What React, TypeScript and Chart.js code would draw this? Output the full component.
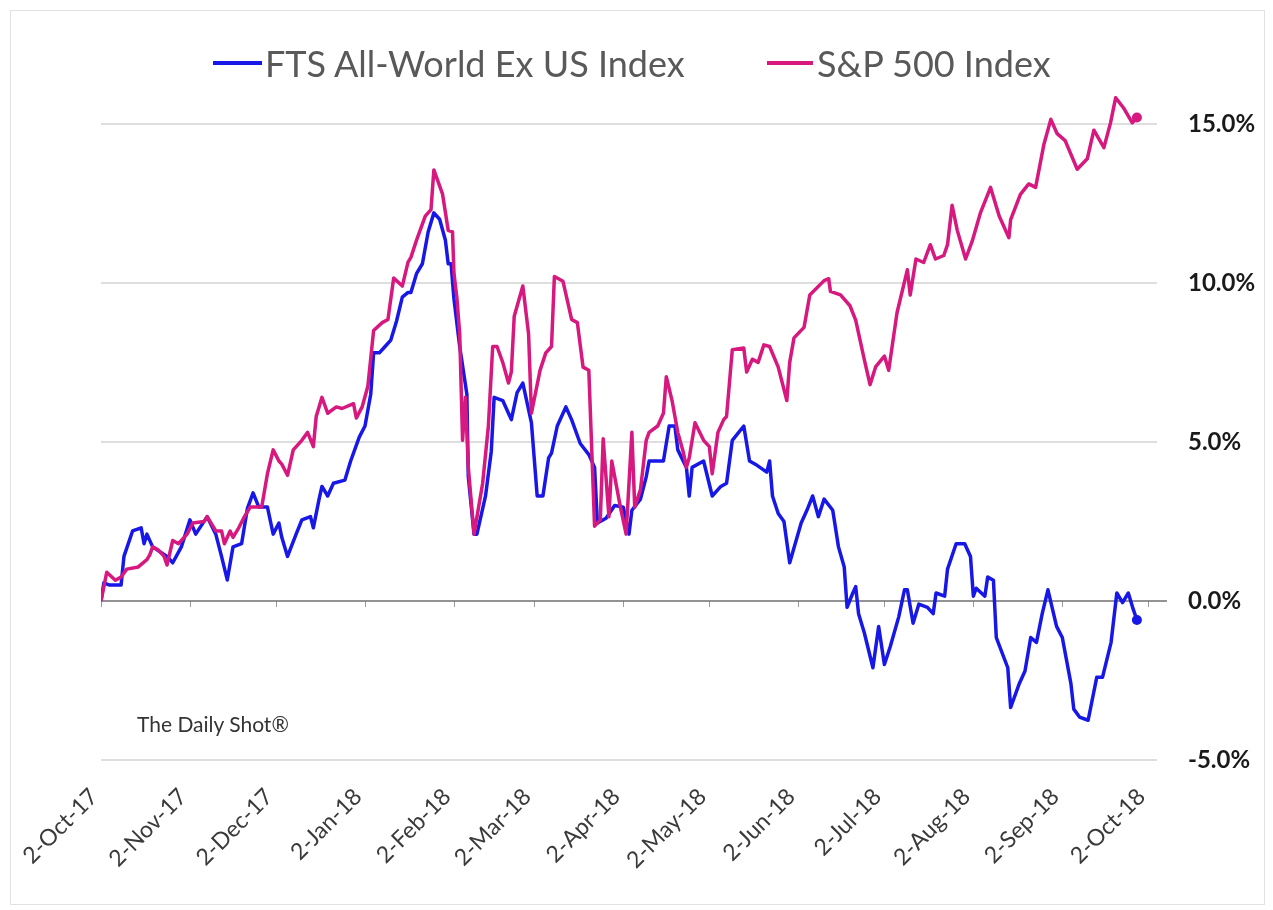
import React, { useEffect, useRef } from "react";
import { Chart, registerables } from "chart.js";

Chart.register(...registerables);

// x positions are days since 2-Oct-2017
const tickDays = [0, 31, 61, 92, 123, 151, 182, 212, 243, 273, 304, 335, 365];
const tickLabels = [
  "2-Oct-17", "2-Nov-17", "2-Dec-17", "2-Jan-18", "2-Feb-18", "2-Mar-18", "2-Apr-18",
  "2-May-18", "2-Jun-18", "2-Jul-18", "2-Aug-18", "2-Sep-18", "2-Oct-18",
];
const seriesNames = ["FTS All-World Ex US Index", "S&P 500 Index"];
const seriesColors = ["#1717e8", "#d6187f"];

const ftseDays = [
  0, 1, 3, 7, 8, 11, 14, 15, 16, 18, 23, 25, 28, 31, 33, 37, 40, 42, 44, 46, 49, 51, 53, 55, 58,
  60, 62, 63, 65, 68, 70, 73, 74, 76, 77, 79, 81, 85, 87, 90, 92, 94, 95, 97, 99, 101, 103, 105,
  107, 108, 110, 112, 114, 116, 118, 120, 121, 122, 123, 125, 127.5, 128, 130, 131, 134, 136, 137,
  140, 142, 143, 145, 147, 150, 152, 154, 156, 157, 159, 162, 164, 167, 170, 172, 173, 176, 179,
  182, 184, 185, 188, 190, 191, 196, 198, 200, 201, 204, 205, 206, 210, 213, 216, 218, 220, 224,
  226, 228, 232, 233, 234, 236, 238, 240, 244, 246, 248, 250, 252, 255, 257, 259, 260, 262, 263,
  264, 266, 269, 271, 273, 275, 278, 280, 281, 283, 285, 288, 290, 291, 294, 295, 298, 301, 303,
  304, 305, 308, 309, 311, 312, 316, 317, 320, 322, 324, 326, 328, 330, 333, 335, 338, 339, 341,
  344, 347, 349, 352, 354, 356, 358, 359.5, 361,
];
const ftseValues = [
  0, 0.57, 0.5, 0.5, 1.4, 2.2, 2.3, 1.8, 2.1, 1.7, 1.4, 1.2, 1.7, 2.55, 2.1, 2.65, 2.1, 1.4, 0.66,
  1.7, 1.8, 2.9, 3.4, 2.95, 2.95, 2.1, 2.45, 2.0, 1.4, 2.1, 2.55, 2.65, 2.3, 3.2, 3.6, 3.3, 3.7,
  3.8, 4.4, 5.15, 5.5, 6.5, 7.8, 7.8, 8.0, 8.2, 8.8, 9.55, 9.7, 9.7, 10.3, 10.6, 11.6, 12.2, 12.0,
  11.35, 10.6, 10.6, 9.5, 8.0, 6.5, 3.9, 2.1, 2.1, 3.3, 4.7, 6.4, 6.3, 5.9, 5.7, 6.55, 6.85, 5.6,
  3.3, 3.3, 4.5, 4.65, 5.5, 6.1, 5.7, 4.95, 4.6, 4.2, 2.45, 2.6, 3.0, 2.95, 2.1, 2.85, 3.2, 3.9,
  4.4, 4.4, 5.5, 5.5, 4.75, 4.2, 3.3, 4.2, 4.4, 3.3, 3.6, 3.7, 5.05, 5.5, 4.4, 4.3, 4.05, 4.4, 3.3,
  2.75, 2.5, 1.2, 2.45, 2.85, 3.3, 2.65, 3.2, 2.85, 1.7, 1.07, -0.2, 0.25, 0.45, -0.4, -1.0, -2.1,
  -0.8, -2.0, -1.45, -0.5, 0.35, 0.35, -0.7, -0.1, -0.2, -0.4, 0.25, 0.15, 1.0, 1.8, 1.8, 1.4,
  0.15, 0.4, 0.15, 0.75, 0.65, -1.15, -2.1, -3.35, -2.6, -2.2, -1.15, -1.3, -0.4, 0.35, -0.8,
  -1.15, -2.6, -3.4, -3.65, -3.75, -2.4, -2.4, -1.3, 0.25, -0.05, 0.25, -0.2, -0.6,
];

const spDays = [
  0, 2, 5, 7, 9, 13, 16, 17, 18, 20, 22, 23, 25, 27, 30, 32, 36, 37, 40, 42, 43, 45, 46, 48, 50,
  52, 54, 56, 58, 60, 62, 63, 65, 67, 70, 72, 74, 75, 77, 79, 82, 84, 88, 89, 91, 93, 95, 98, 100,
  102, 105, 107, 108, 110, 113, 115, 116, 119, 121, 122.5, 123, 124, 125, 126, 127, 128, 130, 133,
  135, 136.5, 138, 140, 142, 143, 144, 147, 149, 150, 153, 155, 157, 158, 161, 164, 166, 168, 170,
  172, 174, 175, 177, 178, 181, 183, 185, 186, 188, 190, 191, 194, 196, 197, 199, 201, 203, 204,
  205, 207, 210, 212, 213, 215, 217, 218, 220, 224, 225, 227, 229, 231, 233, 236, 239, 240, 241.5,
  245, 247, 252, 253.6, 254.2, 257.7, 261, 263, 266, 268, 270, 273, 274.5, 277.4, 281, 282, 284,
  286.7, 289, 290.8, 293.7, 295, 296.6, 298.4, 301.3, 303.6, 306.5, 310, 313, 316.4, 317, 320.4,
  323.3, 325.7, 328.6, 331, 333.2, 336, 340.2, 343.7, 346, 349.5, 351.8, 353.6, 356.5, 359.4, 361,
];
const spValues = [
  0, 0.9, 0.65, 0.75, 1.0, 1.07, 1.3, 1.45, 1.7, 1.6, 1.4, 1.13, 1.9, 1.8, 2.1, 2.45, 2.5, 2.65,
  2.2, 2.2, 1.8, 2.2, 2.0, 2.3, 2.65, 2.95, 2.95, 2.95, 4.0, 4.75, 4.4, 4.3, 3.95, 4.75, 5.05, 5.3,
  4.85, 5.8, 6.4, 5.9, 6.1, 6.05, 6.2, 5.75, 6.1, 6.75, 8.5, 8.75, 8.85, 10.15, 9.9, 10.65, 10.8,
  11.35, 12.1, 12.3, 13.55, 12.8, 11.65, 11.6, 10.3, 9.55, 8.4, 5.05, 6.4, 4.2, 2.1, 3.7, 5.5, 8.0,
  8.0, 7.5, 6.85, 7.2, 8.95, 9.9, 8.4, 5.9, 7.25, 7.8, 8.0, 10.2, 10.05, 8.85, 8.75, 7.35, 7.25,
  2.35, 2.55, 5.1, 2.65, 4.4, 2.95, 2.1, 5.3, 2.95, 3.5, 5.05, 5.3, 5.5, 5.9, 7.05, 6.3, 5.3, 4.65,
  4.2, 4.5, 5.6, 5.05, 4.85, 4.0, 5.3, 5.7, 5.8, 7.9, 7.95, 7.2, 7.6, 7.5, 8.05, 8.0, 7.35, 6.3,
  7.5, 8.27, 8.6, 9.62, 10.07, 10.13, 9.73, 9.62, 9.28, 8.83, 7.59, 6.8, 7.37, 7.7, 7.25, 9.06,
  10.41, 9.62, 10.75, 10.64, 11.2, 10.75, 10.86, 11.2, 12.44, 11.65, 10.75, 11.31, 12.21, 13.0,
  12.1, 11.42, 11.99, 12.78, 13.11, 13.0, 14.36, 15.14, 14.69, 14.47, 13.57, 13.9, 14.8, 14.25,
  15.03, 15.82, 15.48, 15.03, 15.2,
];

const yMin = -5;
const yMax = 16;
const yStep = 5;

const zeroLinePlugin = {
  id: "zeroLine",
  beforeDatasetsDraw(chart: any) {
    const { ctx, chartArea, scales } = chart;
    const x = scales.x;
    const y = scales.y;
    const y0 = y.getPixelForValue(0);
    ctx.save();
    ctx.strokeStyle = "#9a9a9a";
    ctx.lineWidth = 1;
    ctx.beginPath();
    tickDays.forEach((d) => {
      const px = Math.round(x.getPixelForValue(d)) + 0.5;
      ctx.moveTo(px, y0);
      ctx.lineTo(px, y0 + 6);
    });
    ctx.stroke();
    ctx.strokeStyle = "#6f6f6f";
    ctx.lineWidth = 1.5;
    ctx.beginPath();
    ctx.moveTo(chartArea.left, y0);
    ctx.lineTo(chartArea.right + 10, y0);
    ctx.stroke();
    ctx.restore();
  },
};

export default function App() {
  const canvasRef = useRef<HTMLCanvasElement | null>(null);

  useEffect(() => {
    if (!canvasRef.current) return;
    const mk = (days: number[], vals: number[]) => days.map((d, i) => ({ x: d, y: vals[i] }));
    const lastRadius = (n: number) => (c: any) => (c.dataIndex === n - 1 ? 5 : 0);
    const chart = new Chart(canvasRef.current, {
      type: "line",
      data: {
        datasets: [
          {
            label: seriesNames[0],
            data: mk(ftseDays, ftseValues),
            borderColor: seriesColors[0],
            backgroundColor: seriesColors[0],
            borderWidth: 3.5,
            tension: 0,
            pointRadius: lastRadius(ftseDays.length),
            pointBorderWidth: 0,
            borderJoinStyle: "round",
            order: 1,
          },
          {
            label: seriesNames[1],
            data: mk(spDays, spValues),
            borderColor: seriesColors[1],
            backgroundColor: seriesColors[1],
            borderWidth: 3.5,
            tension: 0,
            pointRadius: lastRadius(spDays.length),
            pointBorderWidth: 0,
            borderJoinStyle: "round",
            order: 0,
          },
        ],
      },
      options: {
        animation: false,
        responsive: false,
        devicePixelRatio: 1,
        layout: { padding: { left: 90, top: 81, right: 0, bottom: 0 } },
        plugins: {
          legend: { display: false },
          tooltip: { enabled: false },
        },
        scales: {
          x: {
            type: "linear",
            min: 0,
            max: 368,
            grid: { display: false },
            border: { display: false },
            afterBuildTicks: (scale: any) => {
              scale.ticks = tickDays.map((v) => ({ value: v }));
            },
            afterFit: (scale: any) => {
              scale.height = 144;
            },
            ticks: {
              autoSkip: false,
              minRotation: 45,
              maxRotation: 45,
              padding: 15,
              labelOffset: -7,
              color: "#3a3a3a",
              font: { family: "Lato, 'Open Sans', sans-serif", size: 23 },
              callback: (_v: any, i: number) => tickLabels[i],
            },
          },
          y: {
            type: "linear",
            position: "right",
            min: yMin,
            max: yMax,
            border: { display: false },
            grid: {
              drawTicks: false,
              lineWidth: 2,
              color: (c: any) => (c.tick && c.tick.value === 0 ? "rgba(0,0,0,0)" : "#dedede"),
            },
            afterFit: (scale: any) => {
              scale.width = 107;
            },
            ticks: {
              stepSize: yStep,
              includeBounds: false,
              padding: 31,
              color: "#1a1a1a",
              font: { family: "Lato, 'Open Sans', sans-serif", size: 24, weight: "bold" },
              callback: (v: any) => Number(v).toFixed(1) + "%",
            },
          },
        },
      },
      plugins: [zeroLinePlugin],
    } as any);
    return () => chart.destroy();
  }, []);

  const legendText: React.CSSProperties = {
    fontFamily: "Lato, 'Open Sans', sans-serif",
    fontSize: 36,
    color: "#595959",
    lineHeight: "40px",
    whiteSpace: "nowrap",
  };

  return (
    <div
      style={{
        position: "relative",
        width: 1255,
        height: 895,
        marginLeft: 2,
        marginTop: 2,
        border: "1px solid #e2e2e2",
        boxSizing: "border-box",
        background: "#fff",
      }}
    >
      <canvas ref={canvasRef} width={1253} height={893} style={{ display: "block" }} />
      <div style={{ position: "absolute", left: 202, top: 32, display: "flex", alignItems: "center" }}>
        <span style={{ display: "inline-block", width: 49, height: 4, background: seriesColors[0], marginRight: 3 }} />
        <span style={legendText}>{seriesNames[0]}</span>
      </div>
      <div style={{ position: "absolute", left: 756, top: 32, display: "flex", alignItems: "center" }}>
        <span style={{ display: "inline-block", width: 46, height: 4, background: seriesColors[1], marginRight: 4 }} />
        <span style={legendText}>{seriesNames[1]}</span>
      </div>
      <div
        style={{
          position: "absolute",
          left: 126,
          top: 700,
          fontFamily: "Lato, 'Open Sans', sans-serif",
          fontSize: 21,
          color: "#333",
          whiteSpace: "nowrap",
        }}
      >
        The Daily Shot®
      </div>
    </div>
  );
}
